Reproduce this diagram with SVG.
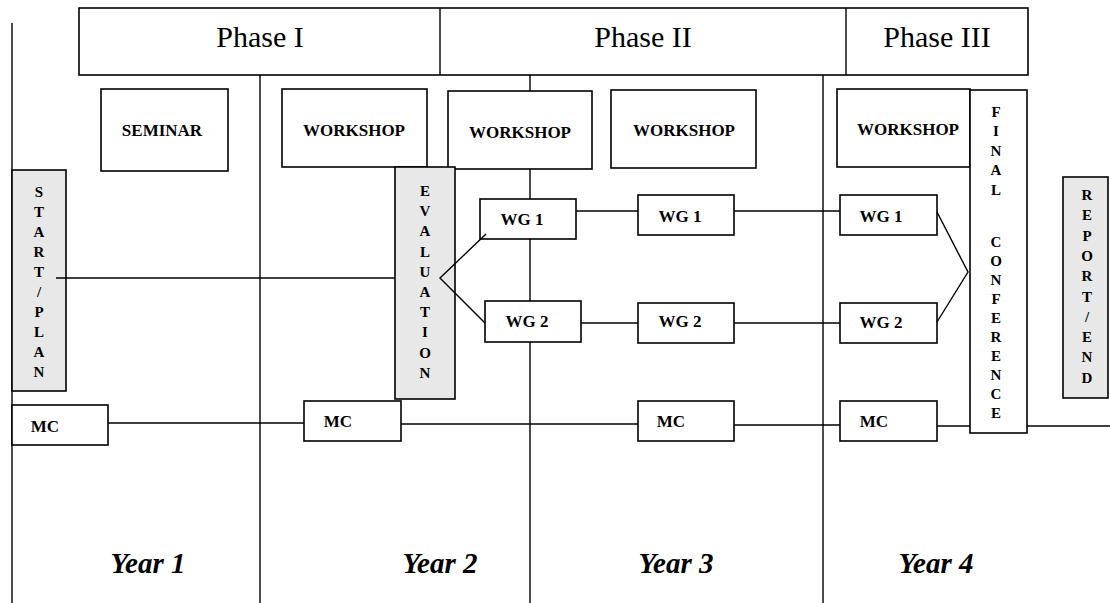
<svg xmlns="http://www.w3.org/2000/svg" width="1110" height="603" viewBox="0 0 1110 603">
<style>
.bx{fill:#fff;stroke:#000;stroke-width:1.6}
.gb{fill:#e8e8e8;stroke:#000;stroke-width:1.6}
.ln{stroke:#000;stroke-width:1.4;fill:none}
.ph{font-family:"Liberation Serif","Times New Roman",serif;font-size:30px;text-anchor:middle;fill:#000}
.lb{font-family:"Liberation Serif","Times New Roman",serif;font-size:17px;font-weight:bold;text-anchor:middle;fill:#000}
.vt{font-family:"Liberation Serif","Times New Roman",serif;font-size:15px;font-weight:bold;text-anchor:middle;fill:#000}
.yr{font-family:"Liberation Serif","Times New Roman",serif;font-size:29px;font-weight:bold;font-style:italic;text-anchor:middle;fill:#000}
</style>
<rect width="1110" height="603" fill="#fff"/>
<g id="grid">
<line class="ln" x1="12" y1="23" x2="12" y2="603"/>
<line class="ln" x1="260" y1="75" x2="260" y2="603"/>
<line class="ln" x1="530" y1="75" x2="530" y2="603"/>
<line class="ln" x1="823" y1="75" x2="823" y2="603"/>
</g>
<g id="phases">
<rect class="bx" x="79" y="8" width="949" height="67"/>
<line class="ln" x1="440" y1="8" x2="440" y2="75"/>
<line class="ln" x1="846" y1="8" x2="846" y2="75"/>
<text class="ph" x="260" y="47">Phase I</text>
<text class="ph" x="643" y="47">Phase II</text>
<text class="ph" x="937" y="47">Phase III</text>
</g>
<g id="seminar"><rect class="bx" x="101" y="89" width="127" height="82"/><text class="lb" x="162" y="136">SEMINAR</text></g>
<g id="workshop1"><rect class="bx" x="282" y="89" width="145" height="78"/><text class="lb" x="354" y="136">WORKSHOP</text></g>
<g id="workshop2"><rect class="bx" x="448" y="91" width="144" height="78"/><text class="lb" x="520" y="138">WORKSHOP</text></g>
<g id="workshop3"><rect class="bx" x="611" y="90" width="145" height="78"/><text class="lb" x="684" y="136">WORKSHOP</text></g>
<g id="workshop4"><rect class="bx" x="837" y="89" width="133" height="78"/><text class="lb" x="908" y="135">WORKSHOP</text></g>
<g id="start">
<rect class="gb" x="12" y="170" width="54" height="221"/>
<text class="vt" x="39" y="197">S</text><text class="vt" x="39" y="217">T</text><text class="vt" x="39" y="237">A</text><text class="vt" x="39" y="257">R</text><text class="vt" x="39" y="277">T</text><text class="vt" x="39" y="297">/</text><text class="vt" x="39" y="317">P</text><text class="vt" x="39" y="337">L</text><text class="vt" x="39" y="357">A</text><text class="vt" x="39" y="377">N</text>
</g>
<g id="evaluation">
<rect class="gb" x="395" y="167" width="60" height="232"/>
<text class="vt" x="425" y="196">E</text><text class="vt" x="425" y="216">V</text><text class="vt" x="425" y="236">A</text><text class="vt" x="425" y="257">L</text><text class="vt" x="425" y="277">U</text><text class="vt" x="425" y="297">A</text><text class="vt" x="425" y="317">T</text><text class="vt" x="425" y="337">I</text><text class="vt" x="425" y="358">O</text><text class="vt" x="425" y="378">N</text>
</g>
<g id="final-conference">
<rect class="bx" x="970" y="90" width="57" height="343"/>
<text class="vt" x="996" y="117">F</text><text class="vt" x="996" y="136">I</text><text class="vt" x="996" y="156">N</text><text class="vt" x="996" y="175">A</text><text class="vt" x="996" y="195">L</text>
<text class="vt" x="996" y="247">C</text><text class="vt" x="996" y="266">O</text><text class="vt" x="996" y="285">N</text><text class="vt" x="996" y="304">F</text><text class="vt" x="996" y="323">E</text><text class="vt" x="996" y="342">R</text><text class="vt" x="996" y="361">E</text><text class="vt" x="996" y="380">N</text><text class="vt" x="996" y="399">C</text><text class="vt" x="996" y="418">E</text>
</g>
<g id="report-end">
<rect class="gb" x="1063" y="177" width="45" height="221"/>
<text class="vt" x="1087" y="200">R</text><text class="vt" x="1087" y="220">E</text><text class="vt" x="1087" y="241">P</text><text class="vt" x="1087" y="261">O</text><text class="vt" x="1087" y="281">R</text><text class="vt" x="1087" y="302">T</text><text class="vt" x="1087" y="322">/</text><text class="vt" x="1087" y="342">E</text><text class="vt" x="1087" y="362">N</text><text class="vt" x="1087" y="383">D</text>
</g>
<g id="wg1-a"><rect class="bx" x="480" y="199" width="96" height="40"/><text class="lb" x="522" y="225">WG 1</text></g>
<g id="wg2-a"><rect class="bx" x="485" y="301" width="96" height="41"/><text class="lb" x="527" y="327">WG 2</text></g>
<g id="wg1-b"><rect class="bx" x="638" y="195" width="96" height="40"/><text class="lb" x="680" y="222">WG 1</text></g>
<g id="wg2-b"><rect class="bx" x="638" y="303" width="96" height="40"/><text class="lb" x="680" y="327">WG 2</text></g>
<g id="wg1-c"><rect class="bx" x="840" y="195" width="97" height="40"/><text class="lb" x="881" y="222">WG 1</text></g>
<g id="wg2-c"><rect class="bx" x="840" y="303" width="97" height="40"/><text class="lb" x="881" y="328">WG 2</text></g>
<g id="mc1"><rect class="bx" x="12" y="405" width="96" height="40"/><text class="lb" x="45" y="432">MC</text></g>
<g id="mc2"><rect class="bx" x="304" y="401" width="97" height="40"/><text class="lb" x="338" y="427">MC</text></g>
<g id="mc3"><rect class="bx" x="638" y="401" width="96" height="40"/><text class="lb" x="671" y="427">MC</text></g>
<g id="mc4"><rect class="bx" x="840" y="401" width="97" height="40"/><text class="lb" x="874" y="427">MC</text></g>
<g id="connectors">
<line class="ln" x1="56" y1="278" x2="395" y2="278"/>
<polyline class="ln" points="486,234 440,278 485,323"/>
<line class="ln" x1="576" y1="211" x2="638" y2="211"/>
<line class="ln" x1="581" y1="323" x2="638" y2="323"/>
<line class="ln" x1="734" y1="211" x2="840" y2="211"/>
<line class="ln" x1="734" y1="323" x2="840" y2="323"/>
<polyline class="ln" points="937,212 968,272 937,322"/>
<line class="ln" x1="108" y1="423" x2="304" y2="423"/>
<line class="ln" x1="401" y1="424" x2="638" y2="424"/>
<line class="ln" x1="734" y1="425" x2="840" y2="425"/>
<line class="ln" x1="937" y1="426" x2="970" y2="426"/>
<line class="ln" x1="1027" y1="426" x2="1110" y2="426"/>
</g>
<g id="years">
<text class="yr" x="148" y="573">Year 1</text>
<text class="yr" x="440" y="573">Year 2</text>
<text class="yr" x="676" y="573">Year 3</text>
<text class="yr" x="936" y="573">Year 4</text>
</g>
</svg>
